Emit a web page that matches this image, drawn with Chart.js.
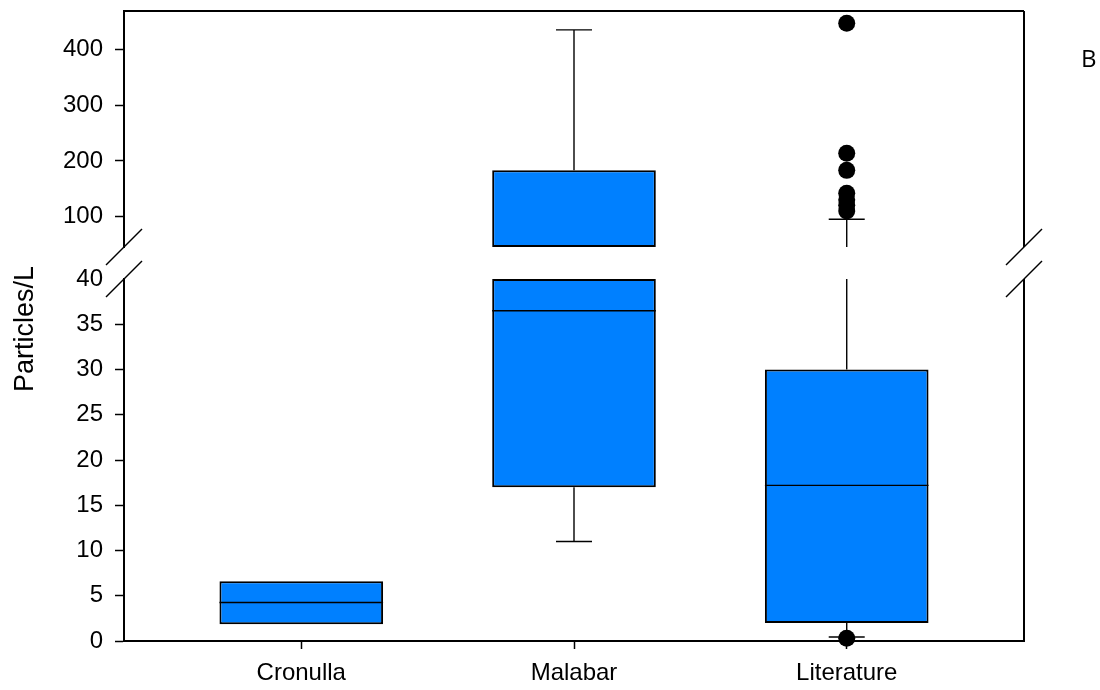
<!DOCTYPE html>
<html>
<head>
<meta charset="utf-8">
<script src="https://cdn.jsdelivr.net/npm/chart.js@4.4.1/dist/chart.umd.min.js"></script>
<style>
html,body{margin:0;padding:0;background:#fff;}
#wrap{width:1100px;height:690px;position:relative;}
</style>
</head>
<body>
<div id="wrap"><canvas id="c"></canvas></div>
<script>
// ---- data ----
const categories = ['Cronulla', 'Malabar', 'Literature'];
const categoryPositions = [1, 2, 3];
const q1Values = [1.85, 17.0, 2.0];
const medianValues = [4.25, 36.5, 17.2];
const q3Values = [6.6, 183, 30.0];
const whiskerLowValues = [null, 11.0, 0.45];
const whiskerHighValues = [null, 436, 95];
const outlierValues = [[], [], [0.3, 110, 120, 130, 142, 183, 214, 448]];
const lowerTicks = [0, 5, 10, 15, 20, 25, 30, 35, 40];
const upperTicks = [100, 200, 300, 400];
const lowerRange = [0, 40];
const upperRange = [45, 470];
const yTitle = 'Particles/L';
const panelLabel = 'B';

// ---- derived datasets ----
function clipBox(i, range) {
  const lo = Math.max(q1Values[i], range[0]);
  const hi = Math.min(q3Values[i], range[1]);
  return { x: categoryPositions[i], y: lo < hi ? [lo, hi] : null };
}
const lowerBoxes = categoryPositions.map((_, i) => clipBox(i, lowerRange));
const upperBoxes = categoryPositions.map((_, i) => clipBox(i, upperRange));
const lowerOutliers = [], upperOutliers = [];
outlierValues.forEach((arr, i) => arr.forEach(v => {
  (v <= lowerRange[1] ? lowerOutliers : upperOutliers).push({ x: categoryPositions[i], y: v });
}));

const FONT = 'Liberation Sans, Arial, sans-serif';
const BLUE = '#0080FF';

function yAxis(range, ticksArr, weight) {
  return {
    type: 'linear', position: 'left', stack: 'left', stackWeight: weight,
    min: range[0], max: range[1],
    afterBuildTicks: s => { s.ticks = ticksArr.map(v => ({ value: v })); },
    afterFit: s => { s.width = 124; s.paddingTop = 0; s.paddingBottom = 0; },
    ticks: { color: '#000', font: { family: FONT, size: 24 }, padding: 12, autoSkip: false },
    grid: {
      drawOnChartArea: false, drawTicks: true, tickLength: 9, tickWidth: 1.5,
      tickColor: ctx => (ctx.tick && ctx.tick.value === lowerRange[1]) ? 'rgba(0,0,0,0)' : '#000'
    },
    border: { display: true, color: '#000', width: 2 }
  };
}

const boxPlugin = {
  id: 'boxParts',
  beforeDatasetsDraw(chart) {
    const ctx = chart.ctx, xs = chart.scales.x, yL = chart.scales.y, yU = chart.scales.y2;
    const w = chart.getDatasetMeta(0).data.find(el => el && isFinite(el.width)).width;
    const pix = v => v <= lowerRange[1] ? yL.getPixelForValue(v) : yU.getPixelForValue(v);
    function seg(x, a, b) {
      const lo = Math.min(a, b), hi = Math.max(a, b);
      [[lowerRange, yL], [upperRange, yU]].forEach(([r, sc]) => {
        const s = Math.max(lo, r[0]), e = Math.min(hi, r[1]);
        if (s < e) {
          ctx.beginPath();
          ctx.moveTo(x, sc.getPixelForValue(s));
          ctx.lineTo(x, sc.getPixelForValue(e));
          ctx.stroke();
        }
      });
    }
    ctx.save();
    ctx.strokeStyle = '#000';
    ctx.lineWidth = 1.4;
    categoryPositions.forEach((p, i) => {
      const x = xs.getPixelForValue(p);
      const cw = w * 0.22;
      if (whiskerHighValues[i] != null) {
        seg(x, q3Values[i], whiskerHighValues[i]);
        const y = pix(whiskerHighValues[i]);
        ctx.beginPath(); ctx.moveTo(x - cw / 2, y); ctx.lineTo(x + cw / 2, y); ctx.stroke();
      }
      if (whiskerLowValues[i] != null) {
        seg(x, whiskerLowValues[i], q1Values[i]);
        const y = pix(whiskerLowValues[i]);
        ctx.beginPath(); ctx.moveTo(x - cw / 2, y); ctx.lineTo(x + cw / 2, y); ctx.stroke();
      }
    });
    ctx.restore();
  },
  afterDatasetsDraw(chart) {
    const ctx = chart.ctx, xs = chart.scales.x, yL = chart.scales.y, yU = chart.scales.y2;
    const w = chart.getDatasetMeta(0).data.find(el => el && isFinite(el.width)).width;
    ctx.save();
    ctx.strokeStyle = '#000';
    ctx.lineWidth = 1.4;
    categoryPositions.forEach((p, i) => {
      const x = xs.getPixelForValue(p);
      const m = medianValues[i];
      const y = m <= lowerRange[1] ? yL.getPixelForValue(m) : yU.getPixelForValue(m);
      ctx.beginPath(); ctx.moveTo(x - w / 2, y); ctx.lineTo(x + w / 2, y); ctx.stroke();
    });
    ctx.restore();
  },
  afterDraw(chart) {
    const ctx = chart.ctx, a = chart.chartArea, yL = chart.scales.y, yU = chart.scales.y2;
    ctx.save();
    ctx.strokeStyle = '#000';
    ctx.lineWidth = 2;
    // frame: top and right
    ctx.beginPath();
    ctx.moveTo(a.left - 1, a.top); ctx.lineTo(a.right, a.top);
    ctx.moveTo(a.right, a.top); ctx.lineTo(a.right, yU.bottom);
    ctx.moveTo(a.right, yL.top); ctx.lineTo(a.right, a.bottom);
    ctx.stroke();
    // break marks
    ctx.lineWidth = 1.4;
    [a.left, a.right].forEach(x => {
      [yU.bottom, yL.top].forEach(y => {
        ctx.beginPath(); ctx.moveTo(x - 18, y + 18); ctx.lineTo(x + 18, y - 18); ctx.stroke();
      });
    });
    // axis title
    ctx.fillStyle = '#000';
    ctx.font = '27px ' + FONT;
    ctx.textAlign = 'center';
    ctx.textBaseline = 'alphabetic';
    ctx.translate(33, (a.top + a.bottom) / 2 + 3);
    ctx.rotate(-Math.PI / 2);
    ctx.fillText(yTitle, 0, 0);
    ctx.restore();
    // panel label
    ctx.save();
    ctx.fillStyle = '#000';
    ctx.font = '24px "Open Sans", sans-serif';
    ctx.textAlign = 'left';
    ctx.textBaseline = 'alphabetic';
    ctx.fillText(panelLabel, a.right + 57, 67);
    ctx.restore();
  }
};

new Chart(document.getElementById('c'), {
  type: 'bar',
  data: {
    datasets: [
      { type: 'bar', label: 'box lower', data: lowerBoxes, yAxisID: 'y', xAxisID: 'x',
        backgroundColor: BLUE, borderColor: '#000', borderWidth: 2, borderSkipped: false,
        grouped: false, barPercentage: 0.6, categoryPercentage: 1 },
      { type: 'bar', label: 'box upper', data: upperBoxes, yAxisID: 'y2', xAxisID: 'x',
        backgroundColor: BLUE, borderColor: '#000', borderWidth: 2, borderSkipped: false,
        grouped: false, barPercentage: 0.6, categoryPercentage: 1 },
      { type: 'scatter', label: 'outliers lower', data: lowerOutliers, yAxisID: 'y', xAxisID: 'x',
        pointRadius: 8.5, pointBackgroundColor: '#000', pointBorderWidth: 0, clip: false, showLine: false },
      { type: 'scatter', label: 'outliers upper', data: upperOutliers, yAxisID: 'y2', xAxisID: 'x',
        pointRadius: 8.5, pointBackgroundColor: '#000', pointBorderWidth: 0, clip: false, showLine: false }
    ]
  },
  options: {
    responsive: true, maintainAspectRatio: false, animation: false,
    layout: { padding: { top: 11, right: 76, bottom: 0, left: 0 } },
    plugins: { legend: { display: false }, tooltip: { enabled: false } },
    scales: {
      x: {
        type: 'linear', position: 'bottom', min: 0.35, max: 3.65, offset: false,
        afterBuildTicks: s => { s.ticks = categoryPositions.map(v => ({ value: v })); },
        afterFit: s => { s.height = 49; s.paddingLeft = 0; s.paddingRight = 0; },
        ticks: {
          callback: v => { const k = categoryPositions.indexOf(v); return k >= 0 ? categories[k] : ''; },
          color: '#000', font: { family: FONT, size: 24 }, padding: 10, maxRotation: 0, autoSkip: false
        },
        grid: { offset: false, drawOnChartArea: false, drawTicks: true, tickLength: 8, tickWidth: 1.5, tickColor: '#000' },
        border: { display: true, color: '#000', width: 2 }
      },
      y: yAxis(lowerRange, lowerTicks, 362),
      gap: {
        type: 'linear', position: 'left', stack: 'left', stackWeight: 32, display: true,
        ticks: { display: false }, grid: { display: false }, border: { display: false },
        afterFit: s => { s.width = 0; s.paddingTop = 0; s.paddingBottom = 0; }
      },
      y2: yAxis(upperRange, upperTicks, 236)
    }
  },
  plugins: [boxPlugin]
});
</script>
</body>
</html>
